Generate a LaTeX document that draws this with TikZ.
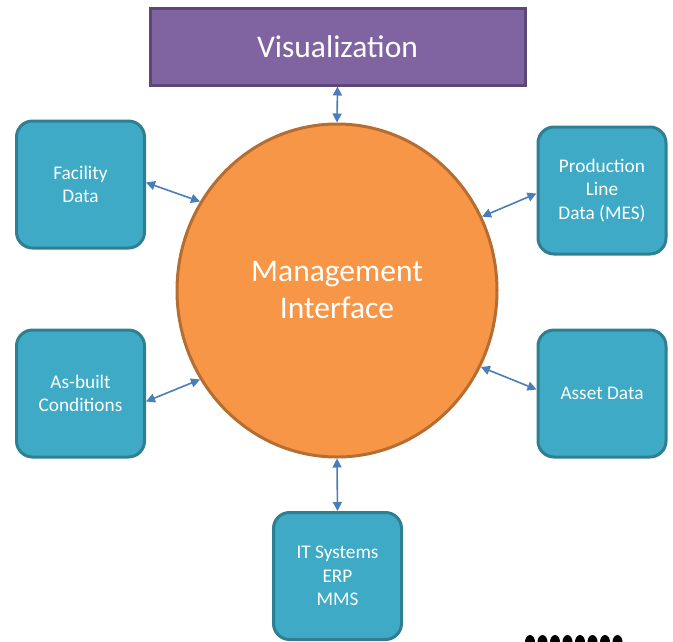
\documentclass[tikz,border=0pt]{standalone}
\usepackage{fontspec}
\setmainfont{Carlito}
\usetikzlibrary{shapes.geometric,arrows.meta,calc}
\definecolor{vizfill}{HTML}{8064A2}
\definecolor{vizdraw}{HTML}{5C4776}
\definecolor{boxfill}{HTML}{3FAAC6}
\definecolor{boxdraw}{HTML}{2F7F92}
\definecolor{mifill}{HTML}{F79646}
\definecolor{midraw}{HTML}{B66D31}
\definecolor{arrowc}{HTML}{4A7EBB}
\tikzset{
  databox/.style={draw=boxdraw, fill=boxfill, line width=3pt, rounded corners=16pt,
    minimum width=128pt, minimum height=127pt, inner sep=0pt, text=white,
    font=\fontsize{19.3}{23.4}\selectfont, align=center},
  link/.style={draw=arrowc, line width=1.6pt, {Triangle[length=9pt,width=9pt]}-{Triangle[length=9pt,width=9pt]}}
}
\begin{document}
\begin{tikzpicture}[x=1pt,y=-1pt]
\useasboundingbox (0,0) rectangle (673,641);
\node[draw=vizdraw, fill=vizfill, line width=3pt, minimum width=375pt, minimum height=77pt,
  inner sep=0pt, text=white, font=\fontsize{31.5}{36}\selectfont] (viz) at (337.5,46.5) {Visualization};
\node[ellipse, draw=midraw, fill=mifill, line width=3pt, minimum width=320pt, minimum height=333pt,
  inner sep=0pt, text=white, align=center, font=\fontsize{31.5}{37}\selectfont] (mi) at (337,290.5) {Management\\Interface};
\node[databox] (fac) at (80.5,184.5) {Facility\\Data};
\node[databox] (mes) at (602,190.5) {Production\\Line\\Data (MES)};
\node[databox] (asb) at (80.5,393.5) {As-built\\Conditions};
\node[databox] (ast) at (602,393.5) {Asset Data};
\node[databox] (its) at (337.5,576) {IT Systems\\ERP\\MMS};
\draw[link] (viz.south) -- (mi.north);
\draw[link] (its.north) -- (mi.south);
\draw[link] ($(fac.east)+(0,-2)$) -- (mi.147);
\draw[link] ($(mes.west)+(0,3)$) -- (mi.27);
\draw[link] ($(asb.east)+(0,8)$) -- (mi.213);
\draw[link] ($(ast.west)+(0,-4)$) -- (mi.332);
\begin{scope}
\clip (0,0) rectangle (673,641);
\foreach \i in {0,...,7} {
  \fill[black] (530+12.5*\i,642) ellipse (5pt and 7pt);
}
\end{scope}
\end{tikzpicture}
\end{document}
